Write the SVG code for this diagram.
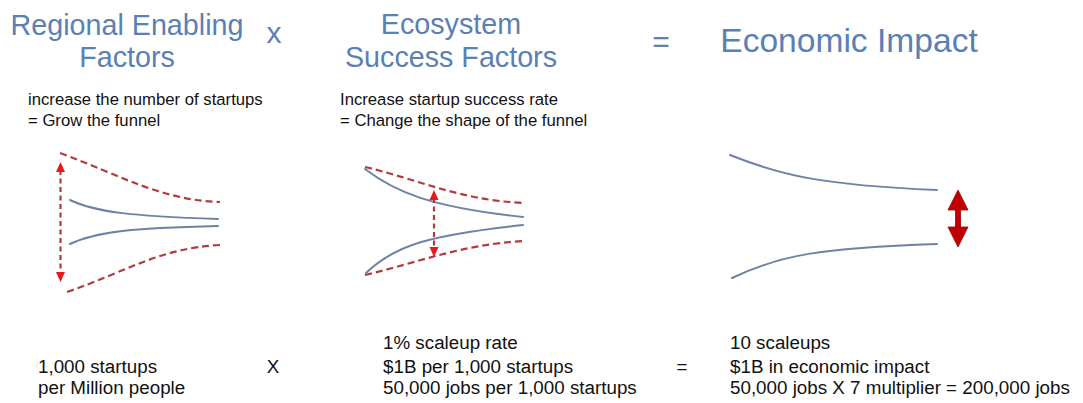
<svg xmlns="http://www.w3.org/2000/svg" width="1083" height="403" viewBox="0 0 1083 403">
  <defs>
    <!-- small red arrowhead pointing up, tip at origin -->
    <path id="head" d="M0,0 L4.5,10 L-4.5,10 Z" fill="#e8191c"/>
  </defs>
  <style>
    text { font-family: "Liberation Sans", Arial, sans-serif; }
    .title { fill: #5b80b4; font-size: 28.7px; text-anchor: middle; }
    .big { fill: #5b80b4; font-size: 33.6px; text-anchor: middle; }
    .op { fill: #5b80b4; font-size: 30px; text-anchor: middle; }
    .sub { fill: #111; font-size: 16.7px; }
    .stat { fill: #111; font-size: 18.8px; }
    .flow { fill: none; stroke: #6e83a4; stroke-width: 2; stroke-linecap: round; }
    .bound { fill: none; stroke: #b03c3f; stroke-width: 2.2; stroke-dasharray: 7 4; }
    .span { fill: none; stroke: #b03c3f; stroke-width: 2.2; stroke-dasharray: 5 3.5; }
  </style>
  <rect width="1083" height="403" fill="#fff"/>

  <!-- column 1: regional enabling factors -->
  <g id="regional">
    <text class="title" x="127" y="35">Regional Enabling</text>
    <text class="title" x="127" y="67">Factors</text>
    <text class="sub" x="28" y="105">increase the number of startups</text>
    <text class="sub" x="28" y="126">= Grow the funnel</text>
    <path class="bound" d="M60,153 C120,175 160,200 220,202"/>
    <path class="bound" d="M67,292 C125,272 160,248 220,245"/>
    <path class="flow" d="M70,200 C95,212 130,216 218,219"/>
    <path class="flow" d="M70,244 C95,232 130,228 218,226"/>
    <text class="stat" x="38" y="373">1,000 startups</text>
    <text class="stat" x="38" y="394">per Million people</text>
  </g>

  <!-- operator between columns 1 and 2 -->
  <g id="times">
    <text class="op" x="274" y="43">x</text>
    <text class="stat" x="273" y="373" text-anchor="middle">X</text>
  </g>

  <!-- column 2: ecosystem success factors -->
  <g id="ecosystem">
    <text class="title" x="451" y="34">Ecosystem</text>
    <text class="title" x="451" y="67">Success Factors</text>
    <text class="sub" x="340" y="105">Increase startup success rate</text>
    <text class="sub" x="340" y="126">= Change the shape of the funnel</text>
    <path class="bound" d="M365,167 C420,180 460,200 523,203"/>
    <path class="bound" d="M365,275 C420,262 460,245 523,241"/>
    <path class="flow" d="M365,169 C395,192 430,207 523,217"/>
    <path class="flow" d="M366,273 C395,245 430,235 523,225"/>
    <text class="stat" x="383" y="349">1% scaleup rate</text>
    <text class="stat" x="383" y="373">$1B per 1,000 startups</text>
    <text class="stat" x="383" y="394">50,000 jobs per 1,000 startups</text>
  </g>

  <!-- operator between columns 2 and 3 -->
  <g id="equals">
    <text class="op" x="661" y="52">=</text>
    <text class="stat" x="682" y="373" text-anchor="middle">=</text>
  </g>

  <!-- column 3: economic impact -->
  <g id="impact">
    <text class="big" x="849" y="52">Economic Impact</text>
    <path class="flow" d="M730,155 C780,175 820,185 937,190"/>
    <path class="flow" d="M732,278 C780,255 820,248 937,244"/>
    <text class="stat" x="730" y="349">10 scaleups</text>
    <text class="stat" x="730" y="373">$1B in economic impact</text>
    <text class="stat" x="730" y="394">50,000 jobs X 7 multiplier = 200,000 jobs</text>
  </g>

  <!-- double-headed arrows marking funnel width -->
  <g id="connectors">
    <path class="span" d="M60.5,170 L60.5,274"/>
    <use href="#head" transform="translate(60.5,162)"/>
    <use href="#head" transform="translate(60.5,282) scale(1,-1)"/>
    <path class="span" d="M434,198 L434,249"/>
    <use href="#head" transform="translate(434,190)"/>
    <use href="#head" transform="translate(434,257) scale(1,-1)"/>
    <path d="M958,190 L968,210 L960.5,210 L960.5,227 L968,227 L958,247 L948,227 L955.5,227 L955.5,210 L948,210 Z" fill="#c00000" stroke="#a00000" stroke-width="0.8" stroke-linejoin="round"/>
  </g>
</svg>
